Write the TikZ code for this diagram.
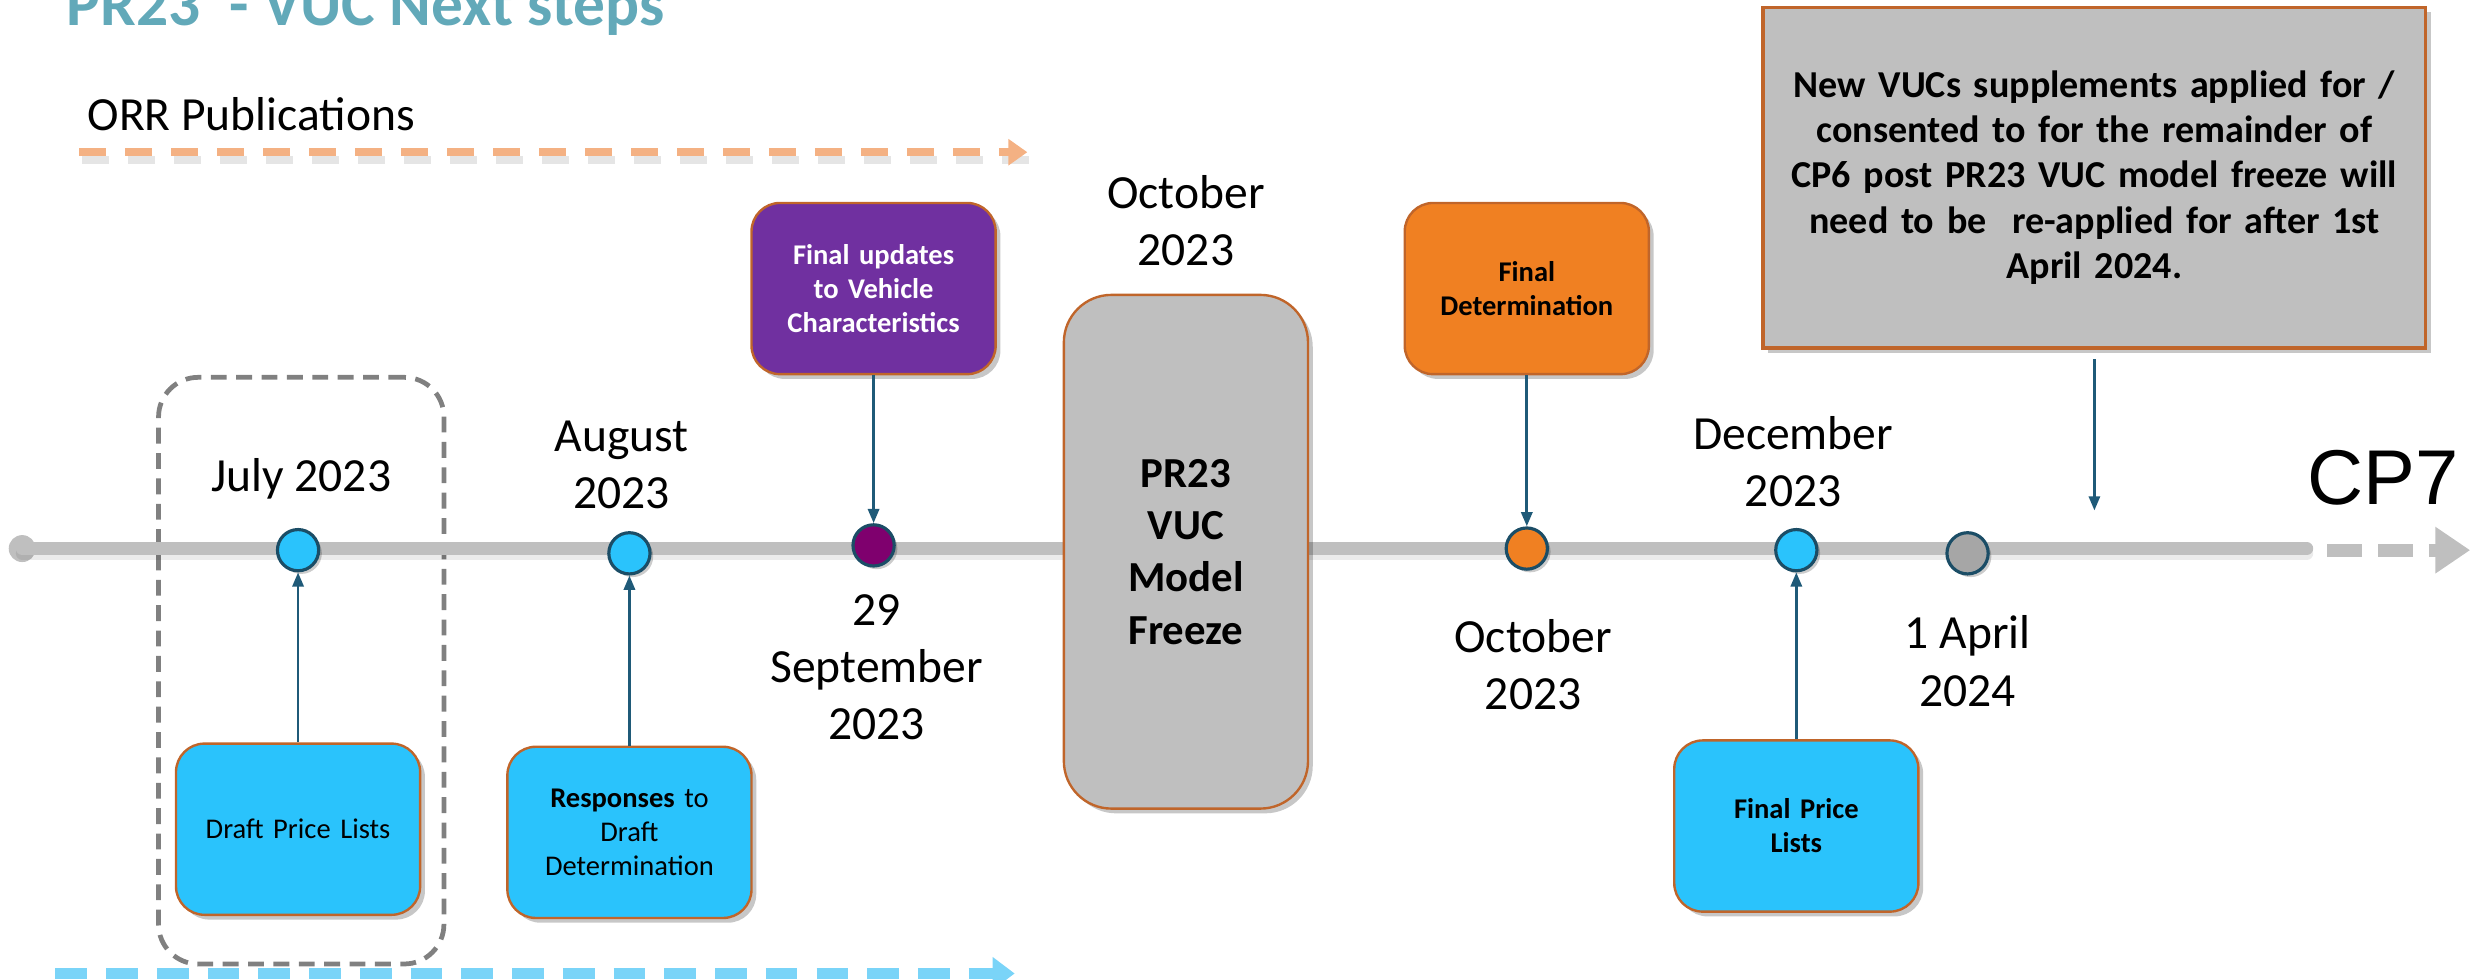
\documentclass[tikz,border=0pt]{standalone}
\usepackage{fontspec}
\setmainfont{Carlito}
\newfontfamily\arialfont{Liberation Sans}
\usetikzlibrary{arrows.meta,shadows}

\definecolor{cyanfill}{HTML}{2AC3FC}
\definecolor{boxedge}{HTML}{C0652A}
\definecolor{purplefill}{HTML}{7030A0}
\definecolor{orangefill}{HTML}{F08022}
\definecolor{greyfill}{HTML}{BFBFBF}
\definecolor{linegrey}{HTML}{BFBFBF}
\definecolor{dotedge}{HTML}{1B4D66}
\definecolor{linkblue}{HTML}{1F5A78}
\definecolor{sepdot}{HTML}{7F006E}
\definecolor{aprdot}{HTML}{A6A6A6}
\definecolor{framegrey}{HTML}{808080}
\definecolor{peach}{HTML}{F4B183}
\definecolor{skyblue}{HTML}{7AD4F8}
\definecolor{titleteal}{HTML}{62A9B9}

\begin{document}
\begin{tikzpicture}[x=1pt,y=-1pt,
  softshadow/.style={drop shadow={shadow xshift=3pt,shadow yshift=-3pt,opacity=0.22,fill=black}},
  event/.style={rounded corners=18pt, draw=boxedge, line width=1.5pt,
    minimum width=154pt, minimum height=108pt, text width=150pt, align=center,
    inner sep=0pt, softshadow, font=\fontsize{18}{21.5}\selectfont},
  dot/.style={circle, draw=dotedge, line width=2pt, minimum size=26pt, inner sep=0pt,
    drop shadow={shadow xshift=2pt,shadow yshift=-2pt,opacity=0.2,fill=black}},
  datelabel/.style={align=center, inner sep=0pt, font=\fontsize{30}{36}\selectfont},
  link/.style={draw=linkblue, line width=1.8pt, -{Triangle[length=9pt,width=7pt]}},
]
\path[use as bounding box] (0,0) rectangle (1568,618);
\clip (0,0) rectangle (1568,618);

% heading
\node[anchor=base west, inner sep=0pt, text=titleteal,
      font=\fontsize{40}{48}\selectfont\bfseries] (title) at (42,16) {PR23\ \ - VUC Next steps};

% publications band
\node[anchor=base west, inner sep=0pt, font=\fontsize{30}{36}\selectfont] (orr) at (55,82) {ORR Publications};
\coordinate (orrA) at (50,96);
\coordinate (orrB) at (648,96);
\coordinate (orrAs) at (52,101);
\coordinate (orrBs) at (650,101);
\draw[black, opacity=0.10, line width=5pt, dash pattern=on 17pt off 12pt] (orrAs) -- (orrBs);
\draw[peach, line width=5pt, dash pattern=on 17pt off 12pt,
      -{Triangle[length=12pt,width=16pt]}] (orrA) -- (orrB);

\coordinate (blueA) at (35,614);
\coordinate (blueB) at (640,614);
\draw[skyblue, line width=7pt, dash pattern=on 20pt off 12pt,
      -{Triangle[length=14pt,width=20pt]}] (blueA) -- (blueB);

% July frame
\node[draw=framegrey, line width=3pt, dash pattern=on 10pt off 6pt, rounded corners=25pt,
      minimum width=180pt, minimum height=370pt, inner sep=0pt] (julyframe) at (190,423) {};

% timeline
\node[circle, fill=linegrey, minimum size=17pt, inner sep=0pt] (tlStart) at (14,346) {};
\coordinate (tlEnd) at (1455,346);
\draw[black, opacity=0.08, line width=8pt, line cap=round] ([yshift=-3pt]tlStart.center) -- ([yshift=-3pt]tlEnd);
\draw[linegrey, line width=8pt, line cap=round] (tlStart.center) -- (tlEnd);
\coordinate (cpA) at (1468,347);
\coordinate (cpB) at (1558,347);
\draw[linegrey, line width=8pt, dash pattern=on 22pt off 10pt,
      -{Triangle[length=22pt,width=28pt]}] (cpA) -- (cpB);
\node[anchor=base, inner sep=0pt, font=\arialfont\fontsize{49}{55}\selectfont] (cp7) at (1503,318) {CP7};

% milestones
\node[dot, fill=cyanfill] (dJul) at (188,347) {};
\node[dot, fill=cyanfill] (dAug) at (397,349) {};
\node[dot, fill=sepdot]   (dSep) at (551,344) {};
\node[dot, fill=orangefill] (dOct) at (963,346) {};
\node[dot, fill=cyanfill] (dDec) at (1133,347) {};
\node[dot, fill=aprdot]   (dApr) at (1241,349) {};

% dates
\node[datelabel] (lJul) at (190,302) {July 2023};
\node[datelabel] (lAug) at (392,293) {August\\2023};
\node[datelabel] (lSep) at (553,421) {29\\September\\2023};
\node[datelabel] (lOctA) at (748,139) {October\\2023};
\node[datelabel] (lOctB) at (967,419) {October\\2023};
\node[datelabel] (lDec) at (1131,291) {December\\2023};
\node[datelabel] (lApr) at (1241,417) {1 April\\2024};

% event boxes
\node[event, fill=cyanfill] (bDraft) at (188,523) {Draft Price Lists};
\node[event, fill=cyanfill] (bResp) at (397,525) {\textbf{Responses} to\\Draft\\Determination};
\node[event, fill=purplefill, text=white, font=\fontsize{18}{21.5}\selectfont\bfseries]
      (bVeh) at (551,182) {Final updates\\to Vehicle\\Characteristics};
\node[event, fill=orangefill, font=\fontsize{18}{21.5}\selectfont\bfseries]
      (bFD) at (963,182) {Final\\Determination};
\node[event, fill=cyanfill, font=\fontsize{18}{21.5}\selectfont\bfseries]
      (bFPL) at (1133,521) {Final Price\\Lists};
\node[event, fill=greyfill, rounded corners=30pt, minimum height=324pt,
      font=\fontsize{27}{33}\selectfont\bfseries] (bFreeze) at (748,348) {PR23\\VUC\\Model\\Freeze};
\node[draw=boxedge, line width=2pt, fill=greyfill, softshadow, minimum width=418pt,
      minimum height=215pt, text width=410pt, align=center, inner sep=0pt,
      font=\fontsize{24}{28.5}\selectfont\bfseries] (bNote) at (1321,112)
      {New VUCs supplements applied for /\\consented to for the remainder of\\CP6 post PR23 VUC model freeze will\\need to be\ \ re-applied for after 1st\\April 2024.};

% connectors
\draw[link] (bDraft.north) -- (dJul.south);
\draw[link] (bResp.north) -- (dAug.south);
\draw[link] (bVeh.south) -- (dSep.north);
\draw[link] (bFD.south) -- (dOct.north);
\draw[link] (bFPL.north) -- (dDec.south);
\coordinate (noteTip) at (1321,322);
\draw[link, shorten <=6pt] (bNote.south) -- (noteTip);
\end{tikzpicture}
\end{document}
